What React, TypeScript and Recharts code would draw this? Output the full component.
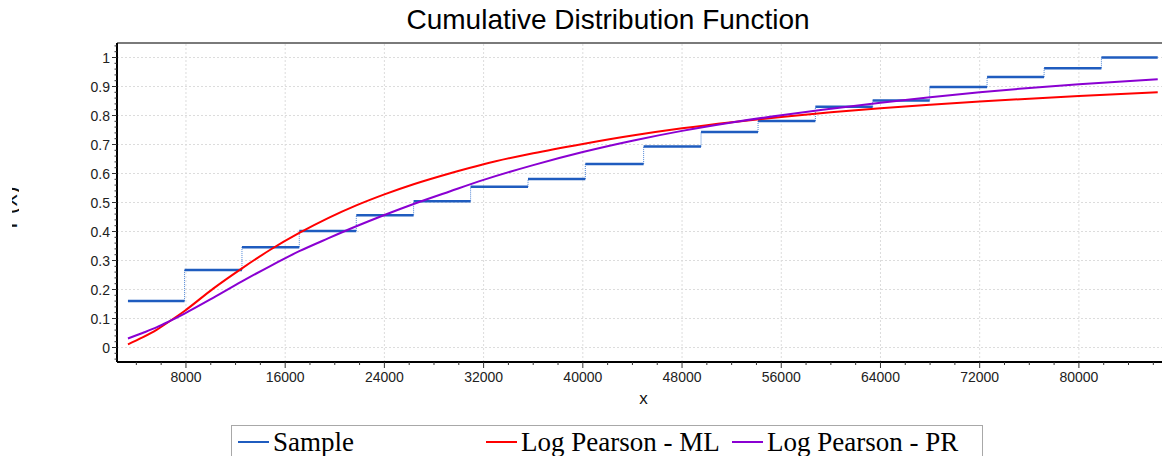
import React from 'react';
import { LineChart, Line, XAxis, YAxis, ReferenceLine, Legend } from 'recharts';

// ---- Data ----
const sampleX = [3323, 7887, 12516, 17137, 21734, 26355, 30952, 35581, 40202, 44903, 49532, 54129, 58750, 63371, 67968, 72597, 77194, 81815, 86355];
const sampleY = [0.160, 0.267, 0.346, 0.402, 0.456, 0.504, 0.554, 0.581, 0.633, 0.693, 0.743, 0.781, 0.830, 0.852, 0.898, 0.933, 0.963, 1.0];

const mlX = [3323, 4500, 5662, 6597, 7887, 10225, 12516, 14798, 17137, 19500, 21734, 24000, 26355, 29315, 32000, 36000, 40000, 44000, 48000, 52000, 56000, 60000, 64000, 68000, 72000, 76000, 80000, 86355];
const mlY = [0.011, 0.035, 0.062, 0.088, 0.126, 0.204, 0.273, 0.337, 0.395, 0.447, 0.490, 0.528, 0.563, 0.601, 0.632, 0.670, 0.702, 0.731, 0.756, 0.777, 0.795, 0.811, 0.825, 0.837, 0.848, 0.858, 0.867, 0.880];

const prX = [3323, 4500, 5662, 6597, 7887, 10225, 12516, 14798, 17137, 19500, 21734, 24000, 26355, 29315, 32000, 36000, 40000, 44000, 48000, 52000, 56000, 60000, 64000, 68000, 72000, 76000, 80000, 86355];
const prY = [0.031, 0.050, 0.070, 0.089, 0.117, 0.172, 0.228, 0.281, 0.332, 0.377, 0.418, 0.457, 0.495, 0.539, 0.578, 0.629, 0.674, 0.713, 0.747, 0.776, 0.801, 0.823, 0.844, 0.863, 0.880, 0.895, 0.908, 0.925];

const majorXTicks = [8000, 16000, 24000, 32000, 40000, 48000, 56000, 64000, 72000, 80000];
const majorYTicks = [0, 0.1, 0.2, 0.3, 0.4, 0.5, 0.6, 0.7, 0.8, 0.9, 1];
const minorXTicks: number[] = [];
for (let v = 4000; v <= 86000; v += 2000) minorXTicks.push(v);
const minorYTicks: number[] = [];
for (let i = -2; i <= 52; i++) minorYTicks.push((i * 2) / 100);

const seriesNames = ['Sample', 'Log Pearson - ML', 'Log Pearson - PR'];
const seriesColors = ['#1f5cbf', '#ff0000', '#8a00d2'];
const yAxisTitle = 'F(x)';
const xAxisTitle = 'x';
const chartTitle = 'Cumulative Distribution Function';

// ---- Derived tables ----
const sampleFlats: { x: number; y: number | null }[] = [];
sampleY.forEach((y, i) => {
  sampleFlats.push({ x: sampleX[i], y });
  sampleFlats.push({ x: sampleX[i + 1], y });
  sampleFlats.push({ x: sampleX[i + 1], y: null });
});
const sampleRisers: { x: number; y: number | null }[] = [];
sampleY.forEach((y, i) => {
  if (i === 0) return;
  sampleRisers.push({ x: sampleX[i], y: sampleY[i - 1] });
  sampleRisers.push({ x: sampleX[i], y });
  sampleRisers.push({ x: sampleX[i], y: null });
});
const mlData = mlX.map((x, i) => ({ x, y: mlY[i] }));
const prData = prX.map((x, i) => ({ x, y: prY[i] }));

const FONT = '"Liberation Sans", Arial, sans-serif';
const SERIF = '"Liberation Serif", "Times New Roman", serif';

const isMajorX = (v: number) => majorXTicks.includes(v);
const isMajorY = (v: number) => {
  const r = Math.round(v * 100);
  return r % 10 === 0 && r >= 0 && r <= 100;
};

const XTick = (props: any) => {
  const { x, y, payload } = props;
  const v = payload.value;
  const major = isMajorX(v);
  return (
    <g>
      <line x1={x} x2={x} y1={y} y2={y + (major ? 6 : 3)} stroke="#333" strokeWidth={1} />
      {major && (
        <text x={x} y={y + 10} dy="0.71em" textAnchor="middle" fontSize={14} fontFamily={FONT} fill="#222">
          {v}
        </text>
      )}
    </g>
  );
};

const YTick = (props: any) => {
  const { x, y, payload } = props;
  const v = payload.value;
  const major = isMajorY(v);
  const label = Math.round(v * 10) / 10;
  return (
    <g>
      <line x1={x - (major ? 5 : 2.5)} x2={x} y1={y} y2={y} stroke="#333" strokeWidth={1} />
      {major && (
        <text x={x - 7} y={y} dy="0.36em" textAnchor="end" fontSize={14} fontFamily={FONT} fill="#222">
          {String(label)}
        </text>
      )}
    </g>
  );
};

const YLabel = () => (
  <g>
    <defs>
      <clipPath id="ylabclip" clipPathUnits="userSpaceOnUse">
        <rect x={12} y={150} width={7} height={120} />
      </clipPath>
    </defs>
    <g clipPath="url(#ylabclip)">
      <text
        transform="translate(17,207.5) rotate(-90)"
        textAnchor="middle"
        fontSize={24}
        fontFamily={FONT}
        fill="#111"
      >
        {yAxisTitle}
      </text>
    </g>
  </g>
);

const XLabel = (props: any) => {
  const vb = props.viewBox || { x: 117, y: 362, width: 1045 };
  return (
    <text x={vb.x + vb.width / 2 + 4} y={vb.y + 42} textAnchor="middle" fontSize={17} fontFamily={FONT} fill="#111">
      {xAxisTitle}
    </text>
  );
};

const itemWidths = [248, 246, undefined];

const LegendBox = (props: any) => {
  const payload = (props.payload || [])
    .filter((p: any) => p.type !== 'none' && seriesNames.includes(p.value))
    .slice()
    .sort((a: any, b: any) => seriesNames.indexOf(a.value) - seriesNames.indexOf(b.value));
  return (
    <div
      style={{
        position: 'relative',
        width: 752,
        height: 40,
        boxSizing: 'border-box',
        border: '1px solid #a8a8a8',
        background: '#fff',
        display: 'flex',
        alignItems: 'flex-start',
        paddingLeft: 6,
        paddingTop: 3,
        fontFamily: SERIF,
        fontSize: 27,
        lineHeight: '27px',
        color: '#000',
        whiteSpace: 'nowrap',
      }}
    >
      {payload.map((p: any, i: number) => (
        <div key={i} style={{ display: 'flex', alignItems: 'center', width: itemWidths[i] }}>
          <span style={{ display: 'inline-block', width: 31, height: 2, background: p.color, marginRight: 4, position: 'relative', top: -1 }} />
          <span>{p.value}</span>
        </div>
      ))}
    </div>
  );
};

export default function App() {
  return (
    <div style={{ position: 'absolute', left: 0, top: 0, width: 1162, height: 456, overflow: 'hidden', background: '#fff' }}>
      <div
        style={{
          position: 'absolute',
          left: 0,
          width: 1216,
          top: 6,
          textAlign: 'center',
          fontFamily: FONT,
          fontSize: 28,
          lineHeight: '28px',
          color: '#000',
        }}
      >
        {chartTitle}
      </div>
      <div style={{ position: 'absolute', left: 0, top: 0 }}>
        <LineChart width={1164} height={456} margin={{ top: 43, right: 2, bottom: 64, left: 57 }}>
          <XAxis
            type="number"
            dataKey="x"
            domain={[2440, 86700]}
            allowDataOverflow
            ticks={minorXTicks}
            interval={0}
            tickSize={0}
            tickMargin={0}
            tickLine={false}
            tick={<XTick />}
            height={30}
            axisLine={{ stroke: '#000', strokeWidth: 2 }}
            label={<XLabel />}
          />
          <YAxis
            type="number"
            domain={[-0.05, 1.05]}
            allowDataOverflow
            ticks={minorYTicks}
            interval={0}
            tickSize={0}
            tickMargin={0}
            tickLine={false}
            tick={<YTick />}
            width={60}
            axisLine={{ stroke: '#000', strokeWidth: 2 }}
            label={<YLabel />}
          />
          {majorXTicks.map((v) => (
            <ReferenceLine key={'gx' + v} x={v} stroke="#dcdcdc" strokeDasharray="2 2" strokeWidth={1} />
          ))}
          {majorYTicks.map((v) => (
            <ReferenceLine key={'gy' + v} y={v} stroke="#dcdcdc" strokeDasharray="2 2" strokeWidth={1} />
          ))}
          <ReferenceLine y={1.05} stroke="#7a7a7a" strokeWidth={2} />
          <Line
            data={sampleRisers}
            dataKey="y"
            type="linear"
            stroke="#4f86d6"
            strokeWidth={1}
            strokeDasharray="1 1"
            dot={false}
            activeDot={false}
            connectNulls={false}
            legendType="none"
            isAnimationActive={false}
          />
          <Line
            data={sampleFlats}
            dataKey="y"
            name={seriesNames[0]}
            type="linear"
            stroke={seriesColors[0]}
            strokeWidth={2.5}
            dot={false}
            activeDot={false}
            connectNulls={false}
            isAnimationActive={false}
          />
          <Line
            data={mlData}
            dataKey="y"
            name={seriesNames[1]}
            type="monotone"
            stroke={seriesColors[1]}
            strokeWidth={2}
            dot={false}
            activeDot={false}
            isAnimationActive={false}
          />
          <Line
            data={prData}
            dataKey="y"
            name={seriesNames[2]}
            type="monotone"
            stroke={seriesColors[2]}
            strokeWidth={2}
            dot={false}
            activeDot={false}
            isAnimationActive={false}
          />
          <Legend
            layout="horizontal"
            verticalAlign="middle"
            align="center"
            width={752}
            itemSorter={null as any}
            wrapperStyle={{ left: 231, top: 425, width: 752, height: 40 }}
            content={<LegendBox />}
          />
        </LineChart>
      </div>
    </div>
  );
}
